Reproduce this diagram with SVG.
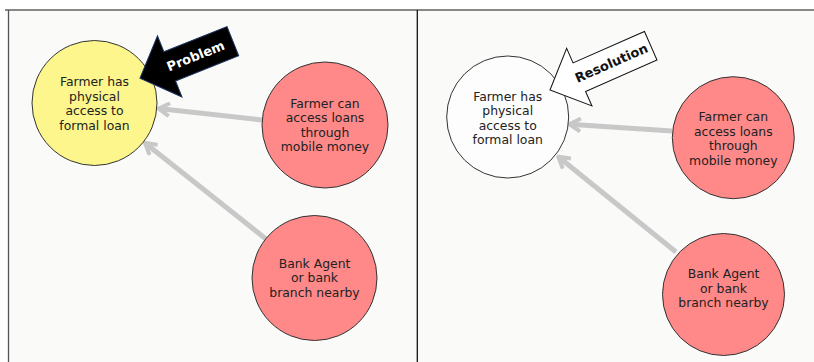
<svg xmlns="http://www.w3.org/2000/svg" width="814" height="362" viewBox="0 0 814 362">
  <defs>
    <marker id="chev" viewBox="0 0 16 16" refX="14" refY="8" markerWidth="16" markerHeight="16" markerUnits="userSpaceOnUse" orient="auto">
      <path d="M3,1.5 L14,8 L3,14.5" fill="none" stroke="#c8c8c8" stroke-width="4"/>
    </marker>
    <style>
      .node { stroke: #333; stroke-width: 1; }
      .yellow { fill: #fcf68c; }
      .red { fill: #ff8888; }
      .white { fill: #fdfdfd; }
      .label { font-family: "DejaVu Sans", "Liberation Sans", sans-serif; font-size: 12.4px; fill: #222; text-anchor: middle; }
      .conn { fill: none; stroke: #c8c8c8; stroke-width: 5; marker-end: url(#chev); }
      .callout-text { font-family: "DejaVu Sans", "Liberation Sans", sans-serif; font-weight: bold; font-size: 13px; text-anchor: middle; dominant-baseline: central; }
    </style>
  </defs>

  <!-- page and panels -->
  <rect x="0" y="0" width="814" height="362" fill="#ffffff"/>
  <rect x="8.5" y="10" width="806" height="352" fill="#fafaf9"/>
  <line x1="5" y1="10" x2="814" y2="10" stroke="#888" stroke-width="1.8"/>
  <line x1="8.5" y1="10" x2="8.5" y2="362" stroke="#555" stroke-width="1.3"/>
  <line x1="417.3" y1="10" x2="417.3" y2="362" stroke="#111" stroke-width="1.3"/>

  <!-- connectors -->
  <g id="connectors">
    <line class="conn" x1="262" y1="120" x2="158.5" y2="108.5"/>
    <line class="conn" x1="266" y1="239" x2="145" y2="143"/>
    <line class="conn" x1="672" y1="131" x2="569.5" y2="124.3"/>
    <line class="conn" x1="676" y1="252" x2="558.3" y2="156.7"/>
  </g>

  <!-- left panel -->
  <g id="node-access-left">
    <circle class="node yellow" cx="94.5" cy="103" r="62.5"/>
    <text class="label" x="94.5" y="86">Farmer has</text>
    <text class="label" x="94.5" y="100.5">physical</text>
    <text class="label" x="94.5" y="115">access to</text>
    <text class="label" x="94.5" y="129.5">formal loan</text>
  </g>
  <g id="node-mobile-left">
    <circle class="node red" cx="325" cy="125" r="63"/>
    <text class="label" x="325" y="107.5">Farmer can</text>
    <text class="label" x="325" y="122">access loans</text>
    <text class="label" x="325" y="136.5">through</text>
    <text class="label" x="325" y="151">mobile money</text>
  </g>
  <g id="node-bank-left">
    <circle class="node red" cx="314.5" cy="278" r="62.5"/>
    <text class="label" x="314.5" y="267.5">Bank Agent</text>
    <text class="label" x="314.5" y="282">or bank</text>
    <text class="label" x="314.5" y="296.5">branch nearby</text>
  </g>
  <g id="callout-problem" transform="translate(140,78.3) rotate(-21.8)">
    <path d="M0,0 L32,-33 L32,-15.75 L100,-15.75 L100,15.75 L32,15.75 L32,33 Z" fill="#000" stroke="#1d3461" stroke-width="1"/>
    <text class="callout-text" x="60" y="0" fill="#fff">Problem</text>
  </g>

  <!-- right panel -->
  <g id="node-access-right">
    <circle class="node white" cx="507.7" cy="117" r="61"/>
    <text class="label" x="507.7" y="100.5">Farmer has</text>
    <text class="label" x="507.7" y="115">physical</text>
    <text class="label" x="507.7" y="129.5">access to</text>
    <text class="label" x="507.7" y="144">formal loan</text>
  </g>
  <g id="node-mobile-right">
    <circle class="node red" cx="733.3" cy="137.7" r="61"/>
    <text class="label" x="733.3" y="121">Farmer can</text>
    <text class="label" x="733.3" y="135.5">access loans</text>
    <text class="label" x="733.3" y="150">through</text>
    <text class="label" x="733.3" y="164.5">mobile money</text>
  </g>
  <g id="node-bank-right">
    <circle class="node red" cx="723.5" cy="294.5" r="61"/>
    <text class="label" x="723.5" y="278">Bank Agent</text>
    <text class="label" x="723.5" y="292.5">or bank</text>
    <text class="label" x="723.5" y="307">branch nearby</text>
  </g>
  <g id="callout-resolution" transform="translate(550,90) rotate(-23.7)">
    <path d="M0,0 L32,-31.5 L32,-15.6 L110,-15.6 L110,15.6 L32,15.6 L32,31.5 Z" fill="#fff" stroke="#111" stroke-width="1"/>
    <text class="callout-text" x="67" y="0" fill="#111">Resolution</text>
  </g>
</svg>
